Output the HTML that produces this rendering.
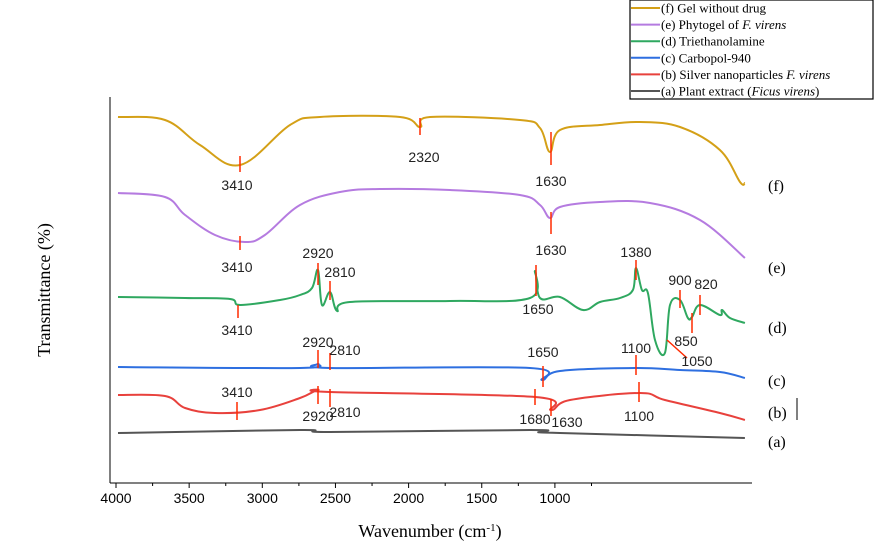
<!DOCTYPE html>
<html><head><meta charset="utf-8"><style>
body{margin:0;background:#fff;}
svg text{font-family:"Liberation Sans",sans-serif;}
</style></head><body>
<svg width="881" height="551" viewBox="0 0 881 551" xmlns="http://www.w3.org/2000/svg">
<g id="plot"></g>
<g id="axes"></g>
<text x="430" y="537" font-size="18" text-anchor="middle" style="font-family:'Liberation Serif',serif">Wavenumber (cm<tspan dy="-6" font-size="11">-1</tspan><tspan dy="6">)</tspan></text>
<text x="50" y="290" font-size="18" text-anchor="middle" transform="rotate(-90 50 290)" style="font-family:'Liberation Serif',serif">Transmittance (%)</text>
<g id="legend"></g>
</svg>
<script>
const xTicks=[4000,3500,3000,2500,2000,1500,1000];
const sF=[[3986,366],[3665,363],[3426,338],[3152,318],[2811,358],[2606,366],[2059,366],[1922,356],[1854,366],[1239,363],[1102,355],[1034,331],[965,353],[692,358],[418,361],[145,356],[-128,333],[-265,301],[-299,300]];
const sE=[[3986,290],[3665,286],[3528,268],[3323,248],[3118,241],[2982,248],[2742,278],[2469,291],[2196,294],[1717,293],[1239,288],[1102,278],[1034,265],[965,276],[692,281],[350,280],[8,263],[-299,225]];
const sD=[[3986,186],[3528,185],[3221,184],[3152,178],[2879,183],[2742,188],[2660,195],[2619,213],[2592,178],[2537,191],[2489,172],[2401,181],[1717,182],[1170,185],[1136,212],[1102,185],[965,186],[808,173],[692,181],[555,185],[467,193],[446,215],[405,193],[364,190],[316,143],[248,130],[213,178],[145,183],[91,165],[63,166],[8,178],[-128,168],[-142,173],[-197,165],[-299,160]];
const sC=[[3986,116],[2742,115],[2619,119],[2537,115],[1170,115],[1088,103],[965,112],[453,115],[145,113],[-128,111],[-299,105]];
const sB=[[3986,88],[3665,87],[3528,75],[3323,70],[3016,73],[2742,85],[2619,93],[2537,91],[1136,86],[1027,73],[897,83],[418,90],[248,83],[-128,70],[-299,63]];
const sA=[[3986,50],[2742,53],[2537,51],[1170,53],[1102,51],[965,50],[-299,45]];
const seriesColors=["#d4a017","#b57be0","#2fa860","#2e6fe0","#e8413c","#555555"];
const ns="http://www.w3.org/2000/svg";
function xs(w){return 116+(4000-w)*0.1463;}
function ys(v){return 483-v;}
function mk(t,a,p){const e=document.createElementNS(ns,t);for(const k in a)e.setAttribute(k,a[k]);p.appendChild(e);return e;}
function smooth(pts){
 let d='M'+pts[0][0].toFixed(1)+','+pts[0][1].toFixed(1);
 for(let i=0;i<pts.length-1;i++){
  const p0=pts[Math.max(0,i-1)],p1=pts[i],p2=pts[i+1],p3=pts[Math.min(pts.length-1,i+2)];
  const t=0.18;
  const c1=[p1[0]+(p2[0]-p0[0])*t,p1[1]+(p2[1]-p0[1])*t];
  const c2=[p2[0]-(p3[0]-p1[0])*t,p2[1]-(p3[1]-p1[1])*t];
  d+=' C'+c1[0].toFixed(1)+','+c1[1].toFixed(1)+' '+c2[0].toFixed(1)+','+c2[1].toFixed(1)+' '+p2[0].toFixed(1)+','+p2[1].toFixed(1);
 }
 return d;
}
const plot=document.getElementById('plot'),axes=document.getElementById('axes'),leg=document.getElementById('legend');
const all=[sF,sE,sD,sC,sB,sA];const keys=['f','e','d','c','b','a'];
all.forEach((s,i)=>{
 const pts=s.map(p=>[xs(p[0]),ys(p[1])]);
 const el=mk('path',{d:smooth(pts),fill:'none',stroke:seriesColors[i],'stroke-width':2,'stroke-linejoin':'round'},plot);
 
 
});
let a=mk('line',{x1:110,y1:97,x2:110,y2:483,stroke:'#000','stroke-width':1},axes);

a=mk('line',{x1:110,y1:483,x2:752,y2:483,stroke:'#000','stroke-width':1},axes);

xTicks.forEach(t=>{
 const x=xs(t);
 const tk=mk('line',{x1:x,y1:483,x2:x,y2:488,stroke:'#000'},axes);
 
 const m=mk('line',{x1:x+36.6,y1:483,x2:x+36.6,y2:486,stroke:'#000'},axes);
 
 const tx=mk('text',{x:x,y:503,'font-size':14,'text-anchor':'middle'},axes);tx.textContent=t;
 
});
const ann=[[240,156,240,172,'3410',237,190],[420,118,420,135,'2320',424,162],[551,132,551,165,'1630',551,186],
[240,236,240,250,'3410',237,272],[551,212,551,234,'1630',551,255],
[318,263,318,285,'2920',318,258],[330,281,330,300,'2810',340,277],[238,305,238,318,'3410',237,335],[536,265,536,296,'1650',538,314],[636,260,636,280,'1380',636,257],[680,290,680,308,'900',680,285],[700,295,700,315,'820',706,289],[692,313,692,333,'850',686,346],[667,340,687,358,'1050',697,366],
[318,350,318,368,'2920',318,347],[330,353,330,370,'2810',345,355],[543,366,543,387,'1650',543,357],[636,355,636,375,'1100',636,353],
[237,402,237,420,'3410',237,397],[318,386,318,404,'2920',318,421],[330,389,330,407,'2810',345,417],[535,389,535,405,'1680',535,424],[551,399,551,416,'1630',567,427],[639,382,639,402,'1100',639,421]];
ann.forEach(r=>{
 const l=mk('line',{x1:r[0],y1:r[1],x2:r[2],y2:r[3],stroke:'#ff2a00','stroke-width':1.5},plot);
 
 const t=mk('text',{x:r[5],y:r[6],'font-size':14,'text-anchor':'middle',fill:'#222'},plot);t.textContent=r[4];
 
});
const letters=[['(f)',186],['(e)',268],['(d)',328],['(c)',381],['(b)',413],['(a)',442]];
letters.forEach(p=>{const t=mk('text',{x:768,y:p[1]+5,'font-size':16,style:"font-family:'Liberation Serif',serif"},plot);t.textContent=p[0];
 });
const br=mk('line',{x1:797,y1:398,x2:797,y2:420,stroke:'#000'},plot);
const box=mk('rect',{x:630,y:0,width:243,height:99,fill:'#fff',stroke:'#000','stroke-width':1.2},leg);

const legendParts=[[["(f) Gel without drug",0]],[["(e) Phytogel of ",0],["F.  virens",1]],[["(d) Triethanolamine",0]],[["(c) Carbopol-940",0]],[["(b) Silver nanoparticles ",0],["F. virens",1]],[["(a) Plant extract (",0],["Ficus virens",1],[")",0]]];
legendParts.forEach((parts,i)=>{
 const y=8+i*16.6;
 const l=mk('line',{x1:631,y1:y,x2:660,y2:y,stroke:seriesColors[i],'stroke-width':2},leg);
 
 const t=mk('text',{x:661,y:y+4.5,'font-size':13,style:"font-family:'Liberation Serif',serif"},leg);
 parts.forEach(p=>{const s=mk('tspan',{},t);s.textContent=p[0];if(p[1])s.setAttribute('font-style','italic');});
 
});
</script>
</body></html>
